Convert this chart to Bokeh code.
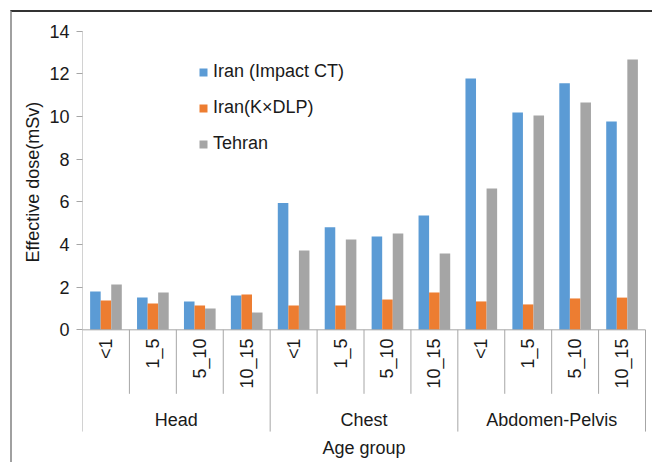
import math
from bokeh.plotting import figure
from bokeh.models import Range1d, FixedTicker, Legend, LegendItem, ColumnDataSource, Title
from bokeh.embed import file_html
from bokeh.resources import INLINE
from bokeh.core.properties import value

# ---------------- data ----------------
groups = ["Head", "Chest", "Abdomen-Pelvis"]
ages = ["<1", "1_5", "5_10", "10_15"]
series_names = ["Iran (Impact CT)", "Iran(K×DLP)", "Tehran"]
iran_impact = [1.80, 1.51, 1.33, 1.61, 5.94, 4.81, 4.37, 5.36, 11.78, 10.19, 11.56, 9.77]
iran_kdlp = [1.37, 1.23, 1.14, 1.65, 1.14, 1.14, 1.42, 1.75, 1.33, 1.19, 1.47, 1.51]
tehran = [2.12, 1.75, 1.00, 0.81, 3.72, 4.23, 4.51, 3.58, 6.62, 10.05, 10.66, 12.67]
y_ticks = [0, 2, 4, 6, 8, 10, 12, 14]
y_title = "Effective dose(mSv)"
x_title = "Age group"

# ---------------- style ----------------
colors = ["#5B9BD5", "#ED7D31", "#A5A5A5"]
FONT = "Liberation Sans"
FS = "18px"
TXT = "#1a1a1a"
LINE = "#A6A6A6"
BAR_W = 0.225

n_cat = len(groups) * len(ages)
FW, FH = 570, 442
p = figure(
    width=70 + FW, height=8 + FH,
    frame_width=FW, frame_height=FH,
    min_border_left=70, min_border_top=8, min_border_right=0, min_border_bottom=0,
    x_range=Range1d(0, 12.149), y_range=Range1d(-6.22, 14.50),
    x_axis_type=None, output_backend="svg", toolbar_location=None,
    styles={"margin-left": "10px", "margin-top": "10px",
            "border-top": "2px solid #333333", "border-left": "2px solid #A0A0A0"},
)
p.outline_line_color = None
p.ygrid.visible = False
p.background_fill_color = "white"
p.border_fill_color = "white"

# y axis
ax = p.yaxis[0]
ax.ticker = FixedTicker(ticks=y_ticks)
ax.axis_line_color = None
ax.major_tick_line_color = LINE
ax.major_tick_out = 6
ax.major_tick_in = 0
ax.minor_tick_line_color = None
ax.major_label_text_font = FONT
ax.major_label_text_font_size = FS
ax.major_label_text_color = TXT
ax.major_label_standoff = 7

# y axis title, placed alongside the 0..14 value span
p.add_layout(Title(text=y_title, align="left", offset=200, standoff=7,
                   text_font=FONT, text_font_size=FS, text_font_style="normal",
                   text_color=TXT), "left")

# bars
labels_full = [(g, a) for g in groups for a in ages]
centers = [i + 0.5 for i in range(n_cat)]
renderers = []
for k, (vals, col) in enumerate(zip([iran_impact, iran_kdlp, tehran], colors)):
    off = (k - 1) * BAR_W
    src = ColumnDataSource(dict(x=[c + off for c in centers], top=vals))
    r = p.vbar(x="x", top="top", bottom=0, width=BAR_W, source=src,
               fill_color=col, line_color=None)
    renderers.append(r)

# category axis (drawn manually, Excel style)
sub_bottom = -3.0
grp_bottom = -4.77
p.segment(x0=[0], y0=[14], x1=[0], y1=[grp_bottom], line_color=LINE, line_width=1)
p.segment(x0=[0], y0=[0], x1=[n_cat], y1=[0], line_color=LINE, line_width=1)
sub_sep = [i for i in range(1, n_cat) if i % len(ages) != 0]
grp_sep = [i for i in range(len(ages), n_cat + 1, len(ages))]
p.segment(x0=sub_sep, y0=[0] * len(sub_sep), x1=sub_sep, y1=[sub_bottom] * len(sub_sep),
          line_color=LINE, line_width=1)
p.segment(x0=grp_sep, y0=[0] * len(grp_sep), x1=grp_sep, y1=[grp_bottom] * len(grp_sep),
          line_color=LINE, line_width=1)

p.text(x=centers, y=[-0.41] * n_cat, text=[a for g, a in labels_full],
       angle=math.pi / 2, text_align="right", text_baseline="middle",
       text_font=value(FONT), text_font_size=value(FS), text_color=TXT)
gcent = [len(ages) * i + len(ages) / 2 for i in range(len(groups))]
p.text(x=gcent, y=[-4.22] * len(groups), text=groups,
       text_align="center", text_baseline="middle",
       text_font=value(FONT), text_font_size=value(FS), text_color=TXT)
p.text(x=[n_cat / 2], y=[-5.56], text=[x_title],
       text_align="center", text_baseline="middle",
       text_font=value(FONT), text_font_size=value(FS), text_color=TXT)

# legend
legend = Legend(
    items=[LegendItem(label=s, renderers=[r]) for s, r in zip(series_names, renderers)],
    location=(116, 308), orientation="vertical",
    glyph_width=10, glyph_height=10, label_height=21, spacing=15,
    label_standoff=5, padding=0, margin=0,
    border_line_color=None, background_fill_alpha=0,
    label_text_font=FONT, label_text_font_size=FS, label_text_color=TXT,
)
p.add_layout(legend)

open("out.html", "w").write(file_html(p, INLINE))
